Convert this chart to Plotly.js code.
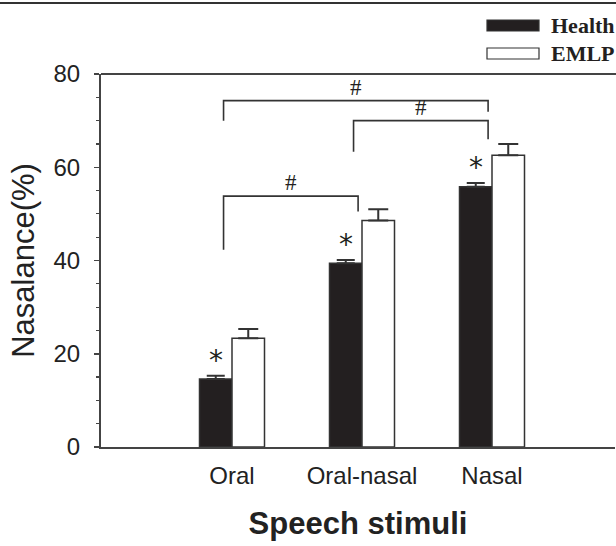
<!DOCTYPE html>
<html>
<head>
<meta charset="utf-8">
<script src="https://cdn.plot.ly/plotly-3.0.1.min.js"></script>
<style>html,body{margin:0;padding:0;background:#fff;overflow:hidden;}#chart{width:616px;height:546px;}</style>
</head>
<body>
<div id="chart"></div>
<script>
// ---- data ----
const categories = ["Oral", "Oral-nasal", "Nasal"];
const seriesNames = ["Health", "EMLP"];
const healthValues = [14.6, 39.4, 55.8];
const healthErrors = [0.7, 0.7, 0.8];
const emlpValues = [23.3, 48.6, 62.6];
const emlpErrors = [2.0, 2.4, 2.4];
const healthMarks = ["*", "*", "*"];            // significance vs EMLP
// significance brackets between stimuli (category indices)
const bracketFrom = [0, 1, 0];
const bracketTo = [2, 2, 1];
const bracketTop = [74.3, 70.0, 53.8];
const bracketLeftEnd = [70.0, 63.3, 42.3];
const bracketRightEnd = [71.9, 66.0, 50.5];
const bracketLabel = ["#", "#", "#"];
const yTickVals = [0, 20, 40, 60, 80];

// ---- layout constants ----
const W = 616, H = 546;
const M = {l: 101, r: 1, t: 74, b: 99};
const plotW = W - M.l - M.r, plotH = H - M.t - M.b;
const ink = "#231f20";
const axisCol = "#444";
const idx = categories.map((c, i) => i);
const barHalf = 0.125;   // each bar is a quarter of a category (bargap 0.5, two bars)
const catPx = 130;       // pixels per category
const firstCatPx = 232;  // page x of first category centre

const traces = [
  {type: "bar", name: seriesNames[0], x: idx, y: healthValues,
   marker: {color: ink, line: {color: "#333", width: 1.5}},
   error_y: {type: "data", symmetric: false, array: healthErrors, arrayminus: healthErrors.map(() => 0),
             color: "#333", thickness: 2, width: 9}},
  {type: "bar", name: seriesNames[1], x: idx, y: emlpValues,
   marker: {color: "#ffffff", line: {color: "#333", width: 1.5}},
   error_y: {type: "data", symmetric: false, array: emlpErrors, arrayminus: emlpErrors.map(() => 0),
             color: "#333", thickness: 2, width: 10}}
];

const shapes = [];
const annotations = [];

// brackets
bracketFrom.forEach((f, k) => {
  const x0 = f - 0.065, x1 = bracketTo[k] - 0.03;
  shapes.push({type: "path", xref: "x", yref: "y",
    path: `M${x0},${bracketLeftEnd[k]} L${x0},${bracketTop[k]} L${x1},${bracketTop[k]} L${x1},${bracketRightEnd[k]}`,
    line: {color: "#333", width: 1.6}});
  annotations.push({xref: "x", yref: "y", x: (x0 + x1) / 2, y: bracketTop[k], text: bracketLabel[k],
    showarrow: false, yanchor: "bottom", yshift: -1,
    font: {family: "Liberation Serif, Times New Roman, serif", size: 23, color: ink}});
});

// asterisks above health bars
healthMarks.forEach((m, i) => {
  annotations.push({xref: "x", yref: "y", x: i - barHalf, y: healthValues[i] + healthErrors[i], text: m,
    showarrow: false, yanchor: "bottom", yshift: -3,
    font: {family: "DejaVu Sans, sans-serif", size: 28, color: ink}});
});

// helpers for paper coordinates from page pixels
const pxToPaperX = px => (px - M.l) / plotW;
const pxToPaperY = py => (H - M.b - py) / plotH;

// page top rule and plot top frame line
shapes.push({type: "line", xref: "paper", yref: "paper", x0: pxToPaperX(0), x1: pxToPaperX(W),
  y0: pxToPaperY(3), y1: pxToPaperY(3), line: {color: "#333", width: 2}});
shapes.push({type: "line", xref: "paper", yref: "paper", x0: 0, x1: pxToPaperX(W), y0: 1, y1: 1,
  line: {color: axisCol, width: 2}});

// legend (drawn manually: long flat swatches)
const legFill = [ink, "#ffffff"];
const legRowY = [25.5, 53.5];
seriesNames.forEach((n, k) => {
  shapes.push({type: "rect", xref: "paper", yref: "paper",
    x0: pxToPaperX(487), x1: pxToPaperX(539), y0: pxToPaperY(legRowY[k] - 5.5), y1: pxToPaperY(legRowY[k] + 5.5),
    fillcolor: legFill[k], line: {color: "#333", width: 1.2}});
  annotations.push({xref: "paper", yref: "paper", x: pxToPaperX(549), y: pxToPaperY(legRowY[k]),
    xanchor: "left", yanchor: "middle", showarrow: false, text: "<b>" + n + "</b>",
    font: {family: "Liberation Serif, Times New Roman, serif", size: 22, color: ink}});
});

const xStart = -(firstCatPx - M.l) / catPx;

const layout = {
  width: W, height: H,
  margin: M,
  paper_bgcolor: "#fff", plot_bgcolor: "#fff",
  showlegend: false,
  barmode: "group", bargap: 0.5, bargroupgap: 0,
  font: {family: "Liberation Sans, Arial, sans-serif", color: ink},
  xaxis: {
    range: [xStart, xStart + plotW / catPx],
    tickmode: "array", tickvals: idx, ticktext: categories,
    ticks: "", showgrid: false, zeroline: false,
    showline: true, linecolor: axisCol, linewidth: 2, mirror: false,
    tickfont: {size: 24, color: "#222"}, ticklabelstandoff: 6,
    title: {text: "<b>Speech stimuli</b>", font: {size: 31, color: "#222"}, standoff: 25},
    automargin: false, fixedrange: true
  },
  yaxis: {
    range: [0, 80], tickmode: "array", tickvals: yTickVals,
    ticks: "outside", ticklen: 5, tickwidth: 1.5, tickcolor: axisCol,
    minor: {dtick: 5, ticks: "outside", ticklen: 3, tickwidth: 1.2, tickcolor: axisCol, showgrid: false},
    showgrid: false, zeroline: false,
    showline: true, linecolor: axisCol, linewidth: 2, mirror: false,
    tickfont: {size: 24, color: "#222"}, ticklabelstandoff: 9,
    title: {text: "Nasalance(%)", font: {size: 31, color: "#222"}, standoff: 10},
    automargin: false, fixedrange: true
  },
  shapes: shapes,
  annotations: annotations
};

Plotly.newPlot("chart", traces, layout, {displayModeBar: false, staticPlot: true});
</script>
</body>
</html>
